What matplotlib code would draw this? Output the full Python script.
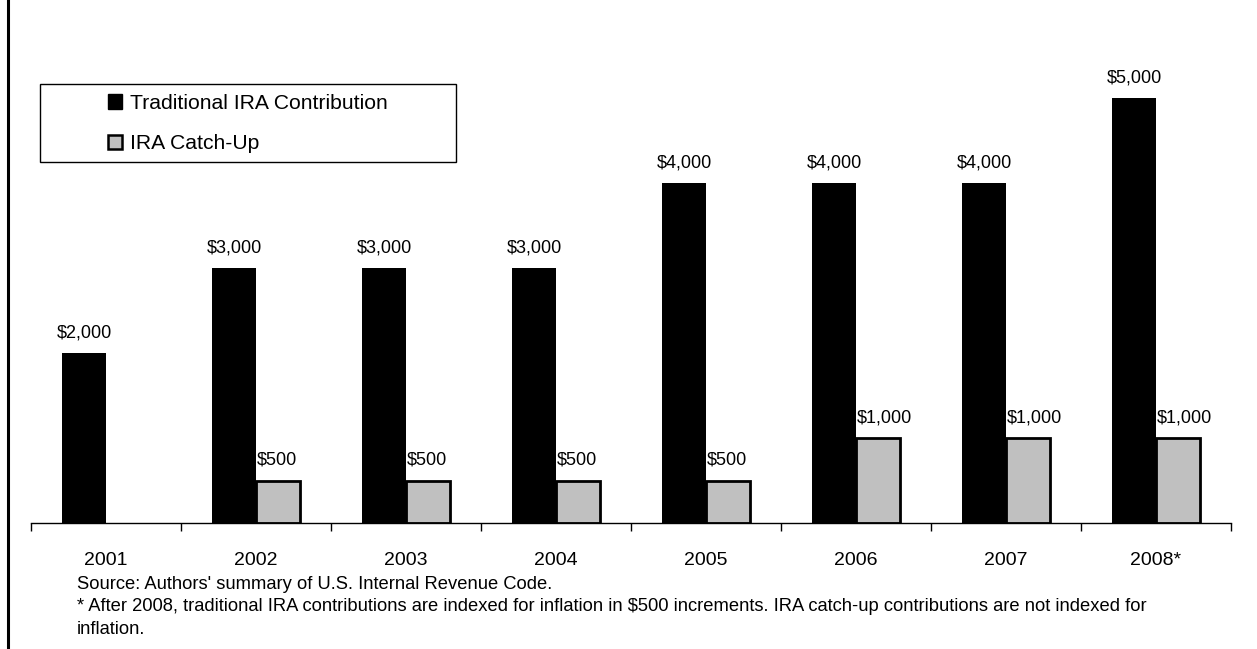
import matplotlib
matplotlib.use("Agg")
import matplotlib.pyplot as plt
import numpy as np
from matplotlib.patches import Rectangle, Patch
from matplotlib.lines import Line2D

plt.rcParams['font.family'] = ['Liberation Sans', 'DejaVu Sans']

years = ["2001", "2002", "2003", "2004", "2005", "2006", "2007", "2008*"]
traditional = [2000, 3000, 3000, 3000, 4000, 4000, 4000, 5000]
catchup = [0, 500, 500, 500, 500, 1000, 1000, 1000]
series_names = ["Traditional IRA Contribution", "IRA Catch-Up"]
source_text = "Source: Authors' summary of U.S. Internal Revenue Code."
note_line1 = ("* After 2008, traditional IRA contributions are indexed for inflation in \\$500 "
              "increments. IRA catch-up contributions are not indexed for")
note_line2 = "inflation."

W, H = 1257, 649
fig = plt.figure(figsize=(W / 100, H / 100), dpi=100)
ax = fig.add_axes([31 / W, (H - 523) / H, 1200 / W, (523 - 13) / H])

x = np.arange(len(years))
bw = 0.293
ax.bar(x - bw / 2, traditional, width=bw, color='black', edgecolor='black', linewidth=0)
mask = np.array(catchup) > 0
ax.bar(x[mask] + bw / 2, np.array(catchup)[mask], width=bw, color='#c0c0c0',
       edgecolor='black', linewidth=2)

for xi, v in zip(x, traditional):
    ax.annotate(f"\\${v:,}", (xi - bw / 2, v), xytext=(0, 11.5), textcoords='offset points',
                ha='center', va='baseline', fontsize=13)
for xi, v in zip(x[mask], np.array(catchup)[mask]):
    ax.annotate(f"\\${v:,}", (xi, v), xytext=(0.5, 11.5), textcoords='offset points',
                ha='left', va='baseline', fontsize=13)

ax.set_xlim(-0.5, len(years) - 0.5)
ax.set_ylim(0, 6000)
for s in ['top', 'right', 'left']:
    ax.spines[s].set_visible(False)
ax.spines['bottom'].set_linewidth(1)
ax.set_yticks([])
ax.set_xticks(np.arange(len(years) + 1) - 0.5)
ax.set_xticklabels([])
ax.tick_params(axis='x', which='major', direction='out', length=5.5, width=1)
ax.set_xticks(x, minor=True)
ax.set_xticklabels(years, minor=True, fontsize=14)
ax.tick_params(axis='x', which='minor', length=0, pad=21)

# legend frame and entries
fig.patches.append(Rectangle((40 / W, (H - 162) / H), 416 / W, 78 / H, transform=fig.transFigure,
                             facecolor='white', edgecolor='black', linewidth=1, zorder=5))
handles = [Patch(facecolor='black', edgecolor='black', linewidth=1),
           Patch(facecolor='#c0c0c0', edgecolor='black', linewidth=1.8)]
leg = fig.legend(handles, series_names, loc='center left',
                 bbox_to_anchor=(108 / W, (H - 123.5) / H), frameon=False, fontsize=15.2,
                 handlelength=0.65, handleheight=0.65, handletextpad=0.38, labelspacing=1.0,
                 borderpad=0, borderaxespad=0)
leg.set_zorder(6)

fig.text(77 / W, (H - 589) / H, source_text, fontsize=13.2, va='baseline', ha='left')
fig.text(77 / W, (H - 611) / H, note_line1, fontsize=13.2, va='baseline', ha='left')
fig.text(77 / W, (H - 634) / H, note_line2, fontsize=13.2, va='baseline', ha='left')

fig.add_artist(Line2D([8.3 / W, 8.3 / W], [0, 1], transform=fig.transFigure, color='black', linewidth=2.2))

fig.savefig("out.png", dpi=100)
